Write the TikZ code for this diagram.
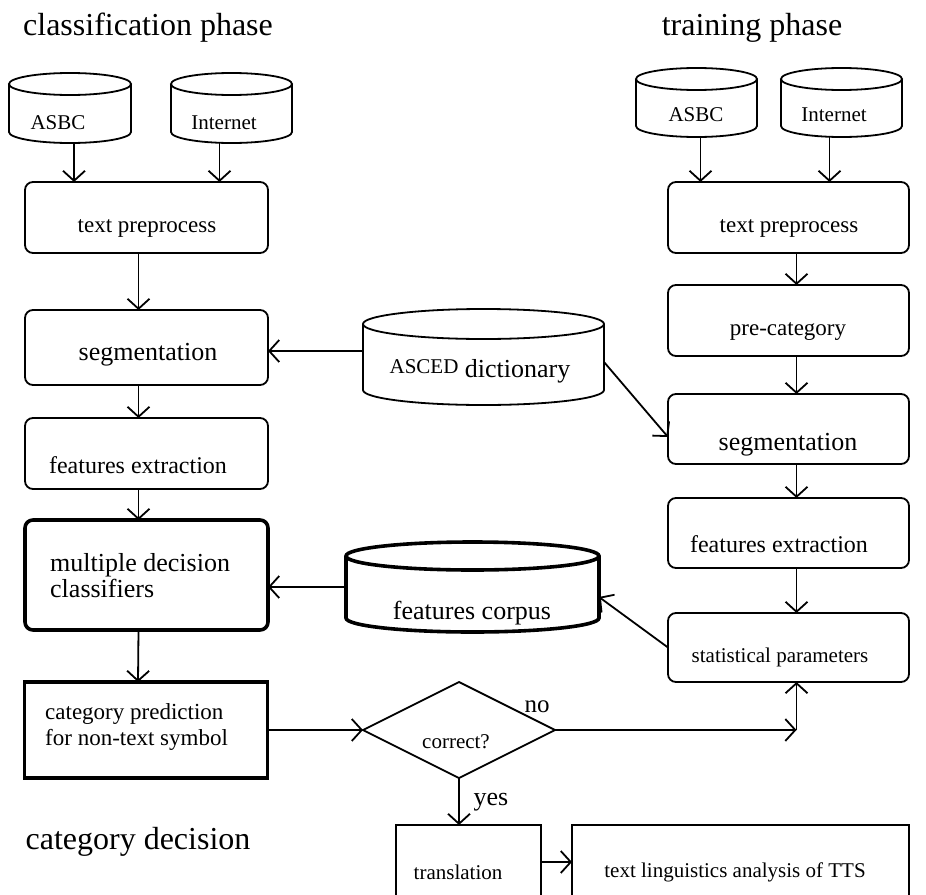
\documentclass[tikz,border=0pt]{standalone}
\usepackage{fontspec}
\setmainfont{Liberation Serif}
\usetikzlibrary{arrows.meta,shapes.geometric,calc}
\newcommand\fsz[1]{\fontsize{#1}{#1}\selectfont}
\newcommand\cylsh[6]{%
  \draw[#6,fill=white] (#1,#3+#5) -- (#1,#4-#5) arc[start angle=180,end angle=0,x radius={(#2-#1)/2},y radius=#5] -- (#2,#3+#5);
  \draw[#6] ({(#1+#2)/2},#3+#5) ellipse[x radius={(#2-#1)/2}, y radius=#5];
}
\tikzset{
  ln/.style={line width=1.8pt},
  thk/.style={line width=3.6pt},
  arr/.style={line width=1.8pt,-{Straight Barb[length=10pt,width=22pt,line width=1.8pt]}},
  bx/.style={draw,line width=1.8pt,rounded corners=8pt,inner sep=0pt,outer sep=0pt},
  inv/.style={inner sep=0pt,outer sep=0pt},
  tx/.style={inner sep=0pt,font=\fsz{23}},
}
\begin{document}
\begin{tikzpicture}[x=1pt,y=-1pt]
\useasboundingbox (0,0) rectangle (926,894);
\clip (0,0) rectangle (926,894);

% titles
\node[tx,font=\fsz{32}] (t1) at (148,28) {classification phase};
\node[tx,font=\fsz{32}] (t2) at (752,28) {training phase};
\node[tx,font=\fsz{32}] (t3) at (138,842) {category decision};

% cylinders
\cylsh{9}{131}{73}{143}{11}{ln}
\node[inv,minimum width=122pt,minimum height=70pt] (cA) at (70,108) {};
\node[tx,font=\fsz{21}] (cAt) at (58,123) {ASBC};
\cylsh{171}{292}{73}{143}{11}{ln}
\node[inv,minimum width=121pt,minimum height=70pt] (cI) at (231.5,108) {};
\node[tx,font=\fsz{21}] (cIt) at (224,123) {Internet};
\cylsh{636}{757}{68}{137}{11}{ln}
\node[inv,minimum width=121pt,minimum height=69pt] (rA) at (696.5,102.5) {};
\node[tx,font=\fsz{21}] (rAt) at (696,115) {ASBC};
\cylsh{781}{902}{68}{137}{11}{ln}
\node[inv,minimum width=121pt,minimum height=69pt] (rI) at (841.5,102.5) {};
\node[tx,font=\fsz{21}] (rIt) at (834,115) {Internet};
\cylsh{363}{604}{309}{405}{15}{ln}
\node[inv,minimum width=241pt,minimum height=96pt] (dict) at (483.5,357) {};
\node[tx,font=\fsz{26}] (dictt) at (480,371) {{\fsz{21}\raisebox{4pt}{ASCED}} dictionary};
\cylsh{346}{599}{542}{632}{14}{thk}
\node[inv,minimum width=253pt,minimum height=90pt] (corp) at (472.5,587) {};
\node[tx,font=\fsz{26}] (corpt) at (472,613) {features corpus};

% left column
\node[bx,minimum width=243pt,minimum height=71pt] (tpl) at (146.5,217.5) {};
\node[tx] (tplt) at (147,228) {text preprocess};
\node[bx,minimum width=243pt,minimum height=75pt] (sgl) at (146.5,347.5) {};
\node[tx,font=\fsz{26}] (sglt) at (148,355) {segmentation};
\node[bx,minimum width=243pt,minimum height=71pt] (fel) at (146.5,453.5) {};
\node[tx,font=\fsz{24}] (felt) at (138,465) {features extraction};
\node[bx,thk,minimum width=243pt,minimum height=110pt] (mdc) at (146.5,575) {};
\node[tx,font=\fsz{26},align=left,anchor=west] (mdct) at (50,576) {multiple decision\\classifiers};
\node[bx,thk,rounded corners=0pt,minimum width=243pt,minimum height=96pt] (cp) at (146,730) {};
\node[tx,align=left,anchor=west] (cpt) at (45,727) {category prediction\\[3pt]for non-text symbol};

% right column
\node[bx,minimum width=241pt,minimum height=71pt] (tpr) at (788.5,217.5) {};
\node[tx] (tprt) at (789,228) {text preprocess};
\node[bx,minimum width=241pt,minimum height=71pt] (pre) at (788.5,320.5) {};
\node[tx] (pret) at (788,332) {pre-category};
\node[bx,minimum width=241pt,minimum height=70pt] (sgr) at (788.5,429) {};
\node[tx,font=\fsz{26}] (sgrt) at (788,445) {segmentation};
\node[bx,minimum width=241pt,minimum height=70pt] (fer) at (788.5,533) {};
\node[tx,font=\fsz{24}] (fert) at (779,544) {features extraction};
\node[bx,minimum width=241pt,minimum height=69pt] (spr) at (788.5,647.5) {};
\node[tx,font=\fsz{21}] (sprt) at (780,657) {statistical parameters};

% decision and bottom boxes
\node[draw,ln,diamond,aspect=2,inner sep=0pt,outer sep=0pt,minimum width=192pt,minimum height=96pt] (dia) at (459,730) {};
\node[tx,font=\fsz{21}] (diat) at (456,742) {correct?};
\node[tx,font=\fsz{25}] (no) at (537,707) {no};
\node[tx,font=\fsz{26}] (yes) at (491,802) {yes};
\node[bx,rounded corners=0pt,minimum width=145pt,minimum height=74pt] (tr) at (468.5,862) {};
\node[tx,font=\fsz{21}] (trt) at (458,872) {translation};
\node[bx,rounded corners=0pt,minimum width=337pt,minimum height=74pt] (tl) at (740.5,862) {};
\node[tx,font=\fsz{21}] (tlt) at (735,872) {text linguistics analysis of TTS};

% connectors
\draw[arr] ([xshift=4pt]cA.south) -- ([xshift=4pt]cA.south |- tpl.north);
\draw[arr] ([xshift=-12pt]cI.south) -- ([xshift=-12pt]cI.south |- tpl.north);
\draw[arr] ([xshift=4pt]rA.south) -- ([xshift=4pt]rA.south |- tpr.north);
\draw[arr] ([xshift=-12pt]rI.south) -- ([xshift=-12pt]rI.south |- tpr.north);
\draw[arr] ([xshift=-8pt]tpl.south) -- ([xshift=-8pt]sgl.north);
\draw[arr] ([xshift=-8pt]sgl.south) -- ([xshift=-8pt]fel.north);
\draw[arr] ([xshift=-8pt]fel.south) -- ([xshift=-8pt]mdc.north);
\draw[arr] ([xshift=-8pt]mdc.south) -- ([xshift=-8pt]cp.north);
\draw[arr] ([xshift=8pt]tpr.south) -- ([xshift=8pt]pre.north);
\draw[arr] ([xshift=8pt]pre.south) -- ([xshift=8pt]sgr.north);
\draw[arr] ([xshift=8pt]sgr.south) -- ([xshift=8pt]fer.north);
\draw[arr] ([xshift=8pt]fer.south) -- ([xshift=8pt]spr.north);
\draw[arr] ([yshift=6pt]dict.west) -- ([yshift=6pt]dict.west -| sgl.east);
\draw[arr] ([yshift=-5pt]dict.east) -- ([yshift=-8pt]sgr.west);
\draw[arr] (corp.west) -- (corp.west -| mdc.east);
\draw[arr] (spr.west) -- ([yshift=-10pt]corp.east);
\draw[arr] (cp.east |- dia.west) -- (dia.west);
\coordinate (cn) at ([xshift=8pt]spr.south |- dia.east);
\draw[arr] (dia.east) -- (cn);
\draw[arr] (cn) -- ([xshift=8pt]spr.south);
\draw[arr] (dia.south) -- (tr.north -| dia.south);
\draw[arr] (tr.east |- 0,862) -- (tl.west |- 0,862);
\end{tikzpicture}
\end{document}
